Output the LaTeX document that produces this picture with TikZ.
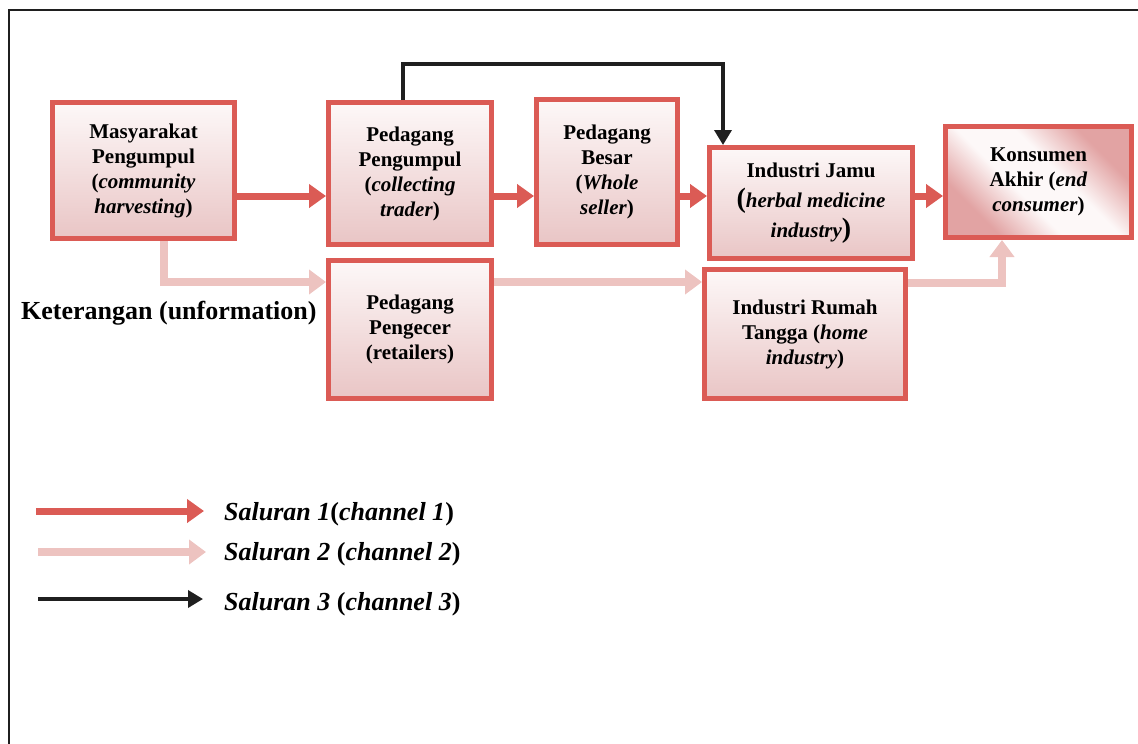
\documentclass[tikz,border=0pt]{standalone}
\usepackage{fontspec}
\setmainfont{Liberation Serif}
\usetikzlibrary{arrows.meta}

\definecolor{boxred}{HTML}{DB5B55}
\definecolor{chanpink}{HTML}{EDC3C0}
\definecolor{boxtop}{HTML}{FDF8F8}
\definecolor{boxbot}{HTML}{E9C5C5}
\definecolor{konpink}{HTML}{E2A3A3}

\pgfdeclarehorizontalshading{konshade}{100bp}{color(0bp)=(konpink); color(28bp)=(konpink); color(43bp)=(boxtop); color(57bp)=(boxtop); color(72bp)=(konpink); color(100bp)=(konpink)}

\tikzset{
  stage/.style={draw=boxred, line width=5pt, top color=boxtop, bottom color=boxbot,
    align=center, inner sep=0pt, font=\fontsize{21}{25}\selectfont\bfseries},
  chanone/.style={draw=boxred, line width=7pt, -{Triangle[length=17pt,width=23pt]}},
  chantwo/.style={draw=chanpink, line width=8pt, -{Triangle[length=17pt,width=24pt]}},
  chanthree/.style={draw=black!88, line width=3.5pt, -{Triangle[length=15pt,width=17pt]}},
  legtext/.style={anchor=west, inner sep=0pt, font=\fontsize{26}{30}\selectfont\bfseries}
}

\newcommand{\bigpar}[1]{{\fontsize{28}{30}\selectfont #1}}

\begin{document}
\begin{tikzpicture}[x=1pt, y=-1pt]
	\useasboundingbox (0,0) rectangle (1138,744);
	
	\draw[line width=2.5pt, black!88] (9,10) rectangle (1160,770);
	
	% the trading stages
	\node[stage, minimum width=182pt, minimum height=136pt] (masyarakat) at (143.5,170.5) {Masyarakat\\Pengumpul\\(\textit{community}\\\textit{harvesting})};
	
	\node[stage, minimum width=163pt, minimum height=142pt] (pengumpul) at (410,173.5) {Pedagang\\Pengumpul\\(\textit{collecting}\\\textit{trader})};
	
	\node[stage, minimum width=141pt, minimum height=145pt] (besar) at (607,172) {Pedagang\\Besar\\(\textit{Whole}\\\textit{seller})};
	
	\node[stage, minimum width=203pt, minimum height=111pt, font=\fontsize{21}{30}\selectfont\bfseries] (jamu) at (811,203) {Industri Jamu\\\bigpar{(}\textit{herbal medicine}\\\textit{industry}\bigpar{)}};
	
	\node[stage, minimum width=186pt, minimum height=111pt, shading=konshade, shading angle=45] (konsumen) at (1038.5,182) {Konsumen\\Akhir (\textit{end}\\\textit{consumer})};
	
	\node[stage, minimum width=163pt, minimum height=138pt] (pengecer) at (410,329.5) {Pedagang\\Pengecer\\(retailers)};
	
	\node[stage, minimum width=201pt, minimum height=129pt] (rumah) at (805,334) {Industri Rumah\\Tangga (\textit{home}\\\textit{industry})};
	
	\node[anchor=west, inner sep=0pt, font=\fontsize{26}{30}\selectfont\bfseries] (keterangan) at (21,313) {Keterangan (unformation)};
	
	% channel 1
	\draw[chanone] (masyarakat.east |- 0,196) -- (pengumpul.west |- 0,196);
	\draw[chanone] (pengumpul.east |- 0,196) -- (besar.west |- 0,196);
	\draw[chanone] (besar.east |- 0,196) -- (jamu.west |- 0,196);
	\draw[chanone] (jamu.east |- 0,196) -- (konsumen.west |- 0,196);
	
	% channel 2
	\draw[chantwo] ([xshift=20.5pt]masyarakat.south) |- (pengecer.west |- 0,282);
	\draw[chantwo] (pengecer.east |- 0,282) -- (rumah.west |- 0,282);
	\draw[chantwo] (rumah.east |- 0,283) -| ([xshift=-36.5pt]konsumen.south);
	
	% channel 3
	\coordinate (turn) at (723,64);
	\draw[chanthree, line join=miter] ([xshift=-7pt]pengumpul.north) |- (turn) -- (turn |- jamu.north);
	
	% legend
	\coordinate (leg1a) at (36,511);
	\coordinate (leg1b) at (204,511);
	\coordinate (leg2a) at (38,552);
	\coordinate (leg2b) at (206,552);
	\coordinate (leg3a) at (38,599);
	\coordinate (leg3b) at (203,599);
	\draw[chanone] (leg1a) -- (leg1b);
	\draw[chantwo] (leg2a) -- (leg2b);
	\draw[chanthree] (leg3a) -- (leg3b);
	
	\node[legtext] (leg1) at (224,514) {\textit{Saluran 1}(\textit{channel 1})};
	\node[legtext] (leg2) at (224,554) {\textit{Saluran 2} (\textit{channel 2})};
	\node[legtext] (leg3) at (224,604) {\textit{Saluran 3} (\textit{channel 3})};
	
\end{tikzpicture}
\end{document}
